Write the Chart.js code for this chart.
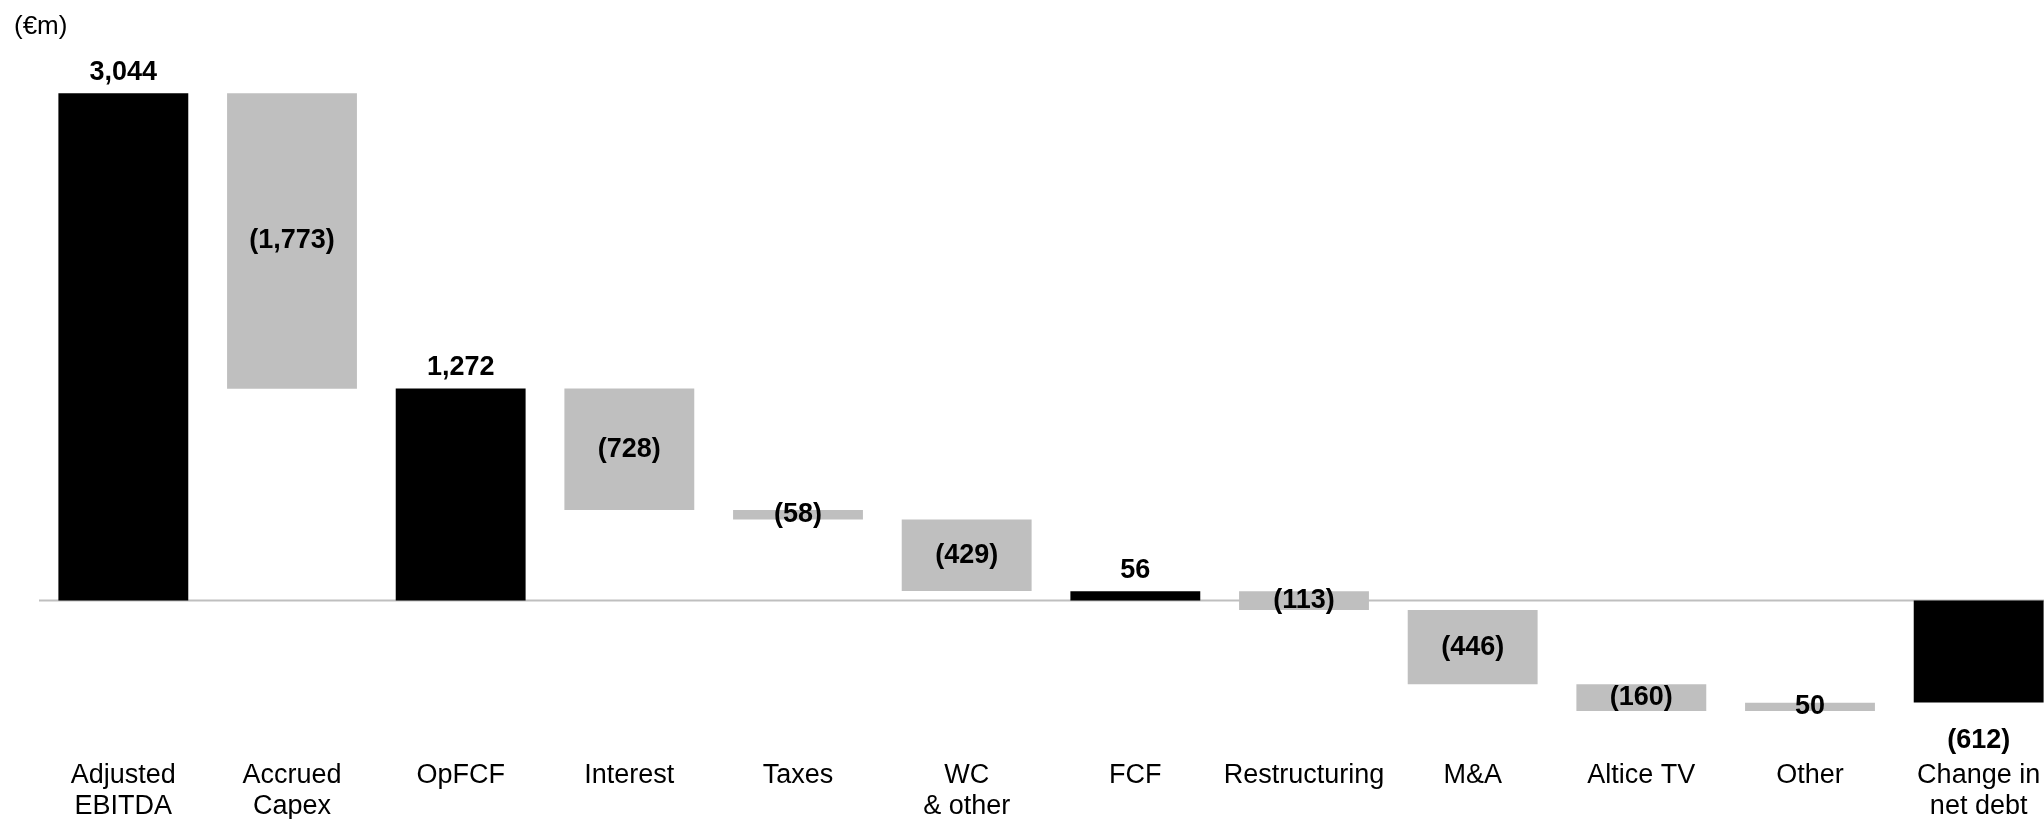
<!DOCTYPE html>
<html>
<head>
<meta charset="utf-8">
<title>Cash flow bridge</title>
<script src="https://cdn.jsdelivr.net/npm/chart.js@4.4.1/dist/chart.umd.min.js"></script>
<style>
  html, body { margin: 0; padding: 0; background: #fff; overflow: hidden; }
  #wrap { width: 2070px; height: 819px; }
</style>
</head>
<body>
<div id="wrap"><canvas id="bridgeChart" width="2070" height="819"></canvas></div>
<script>
// Bridge steps, in €m
const categories = [
    ['Adjusted', 'EBITDA'], ['Accrued', 'Capex'], 'OpFCF', 'Interest', 'Taxes',
    ['WC', '& other'], 'FCF', 'Restructuring', 'M&A', 'Altice TV', 'Other',
    ['Change in', 'net debt']
];
const values = [3044, -1773, 1272, -728, -58, -429, 56, -113, -446, -160, 50, -612];
const isTotal = [true, false, true, false, false, false, true, false, false, false, false, true];

// Subtotals start from zero, movements float from the running total
const ranges = [];
let running = 0;
values.forEach((v, i) => {
    if (isTotal[i]) {
        ranges.push([0, v]);
        running = v;
    } else {
        ranges.push([running, running + v]);
        running += v;
    }
});

function fmt(v) {
    const s = Math.abs(v).toLocaleString('en-US');
    return v < 0 ? '(' + s + ')' : s;
}

const FONT = '"Liberation Sans", Arial, sans-serif';

const bridgeLabels = {
    id: 'bridgeLabels',
    beforeDatasetsDraw(chart) {
        // zero line sits under the bars
        const { ctx, chartArea, scales: { y } } = chart;
        const y0 = y.getPixelForValue(0);
        ctx.save();
        ctx.strokeStyle = '#bfbfbf';
        ctx.lineWidth = 2;
        ctx.beginPath();
        ctx.moveTo(chartArea.left, y0);
        ctx.lineTo(chartArea.right, y0);
        ctx.stroke();
        ctx.restore();
    },
    afterDatasetsDraw(chart) {
        const { ctx, scales: { y } } = chart;
        const bars = chart.getDatasetMeta(0).data;
        ctx.save();
        ctx.fillStyle = '#000';
        ctx.font = 'bold 27px ' + FONT;
        ctx.textAlign = 'center';
        ctx.textBaseline = 'middle';
        ranges.forEach((r, i) => {
            const top = y.getPixelForValue(Math.max(r[0], r[1]));
            const bottom = y.getPixelForValue(Math.min(r[0], r[1]));
            let py;
            if (isTotal[i]) {
                py = values[i] >= 0 ? top - 21 : bottom + 38;
            } else {
                py = (top + bottom) / 2;
            }
            ctx.fillText(fmt(values[i]), bars[i].x, py);
        });
        // unit note
        ctx.font = '26px ' + FONT;
        ctx.textAlign = 'left';
        ctx.fillText('(€m)', 14, 27);
        ctx.restore();
    }
};

Chart.defaults.font.family = FONT;
Chart.defaults.color = '#000';

new Chart(document.getElementById('bridgeChart'), {
    type: 'bar',
    data: {
        labels: categories,
        datasets: [{
            data: ranges,
            backgroundColor: isTotal.map(t => t ? '#000000' : '#bfbfbf'),
            borderWidth: 0,
            barPercentage: 0.77,
            categoryPercentage: 1
        }]
    },
    options: {
        responsive: false,
        animation: false,
        layout: { padding: { left: 39, right: 7, top: 34, bottom: 0 } },
        plugins: {
            legend: { display: false },
            tooltip: { enabled: false }
        },
        scales: {
            x: {
                grid: { display: false, drawTicks: false },
                border: { display: false },
                ticks: {
                    autoSkip: false,
                    maxRotation: 0,
                    minRotation: 0,
                    padding: 9,
                    color: '#000',
                    font: { size: 27, lineHeight: 1.17 }
                },
                afterFit(scale) {
                    scale.height = 68.5;
                }
            },
            y: {
                display: false,
                min: -900,
                max: 3400
            }
        }
    },
    plugins: [bridgeLabels]
});
</script>
</body>
</html>
